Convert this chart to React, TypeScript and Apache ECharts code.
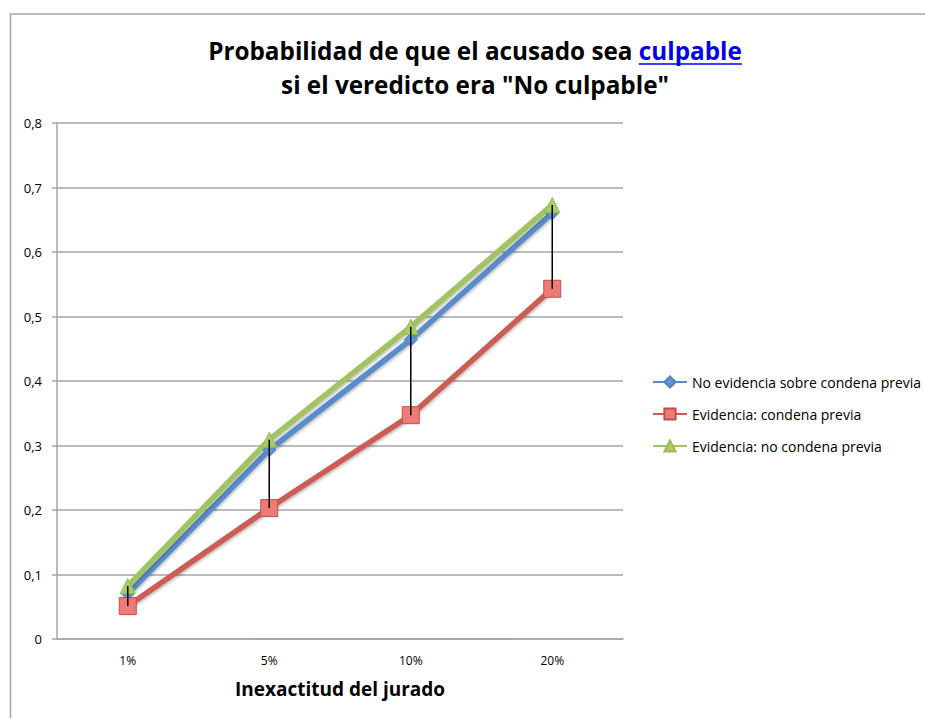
import React, { useEffect, useRef } from "react";
import * as echarts from "echarts";

const categories = ["1%", "5%", "10%", "20%"];
const noEvidencia = [0.07, 0.293, 0.464, 0.66];
const condenaPrevia = [0.051, 0.203, 0.347, 0.543];
const noCondenaPrevia = [0.082, 0.309, 0.484, 0.673];
const seriesNames = [
  "No evidencia sobre condena previa",
  "Evidencia: condena previa",
  "Evidencia: no condena previa",
];
const yTicks = { min: 0, max: 0.8, interval: 0.1 };

const FONT = "'Open Sans', sans-serif";
const TITLE1A = "Probabilidad de que el acusado sea ";
const TITLE1B = "culpable";
const TITLE2 = 'si el veredicto era "No culpable"';

function measure(text: string, font: string): number {
  const c = document.createElement("canvas");
  const ctx = c.getContext("2d")!;
  ctx.font = font;
  return ctx.measureText(text).width;
}

export default function App() {
  const ref = useRef<HTMLDivElement>(null);
  useEffect(() => {
    if (!ref.current) return;
    const chart = echarts.init(ref.current, undefined, { renderer: "svg" });
    // fit title line 1 to the reference width (~534px)
    const w100 = measure(TITLE1A + TITLE1B, "bold 100px 'Open Sans'");
    const titleSize = Math.max(16, Math.min(26, (534 / w100) * 100));
    const tFont = `bold ${titleSize}px 'Open Sans'`;
    const wA = measure(TITLE1A, tFont);
    const wB = measure(TITLE1B, tFont);
    const cx = 475;
    const startB = cx - (wA + wB) / 2 + wA;

    const hl = categories.map((_, i) => {
      const vals = [noEvidencia[i], condenaPrevia[i], noCondenaPrevia[i]];
      return [i, Math.min(...vals), Math.max(...vals)];
    });

    const shadow = { shadowColor: "rgba(0,0,0,0.3)", shadowBlur: 3, shadowOffsetY: 2 };

    chart.setOption({
      animation: false,
      backgroundColor: "#fff",
      textStyle: { fontFamily: FONT },
      graphic: [
        {
          type: "rect",
          shape: { x: 10.5, y: 14, width: 1000, height: 800 },
          style: { fill: "none", stroke: "#a6a6a6", lineWidth: 1.5 },
          silent: true,
        },
        {
          type: "text",
          x: cx,
          y: 50,
          style: {
            text: `{a|${TITLE1A}}{b|${TITLE1B}}`,
            align: "center",
            verticalAlign: "middle",
            rich: {
              a: { fontFamily: "Open Sans", fontWeight: "bold", fontSize: titleSize, fill: "#000" },
              b: { fontFamily: "Open Sans", fontWeight: "bold", fontSize: titleSize, fill: "#0000ee" },
            },
          },
        },
        {
          type: "line",
          shape: { x1: startB, y1: 64, x2: startB + wB, y2: 64 },
          style: { stroke: "#0000ee", lineWidth: 1.5 },
        },
        {
          type: "text",
          x: cx,
          y: 84,
          style: {
            text: TITLE2,
            align: "center",
            verticalAlign: "middle",
            fontFamily: "Open Sans",
            fontWeight: "bold",
            fontSize: titleSize,
            fill: "#000",
          },
        },
      ],
      grid: { left: 57, right: 302, top: 123, bottom: 79, containLabel: false },
      legend: {
        orient: "vertical",
        left: 647,
        top: 370,
        itemWidth: 34,
        itemHeight: 14,
        itemGap: 18,
        data: seriesNames,
        textStyle: { fontSize: 14, color: "#000", fontFamily: FONT },
      },
      xAxis: {
        type: "category",
        data: categories,
        boundaryGap: true,
        axisLine: { lineStyle: { color: "#a6a6a6", width: 1.5 } },
        axisTick: { show: false },
        axisLabel: { fontSize: 12, color: "#000", margin: 15 },
        name: "Inexactitud del jurado",
        nameLocation: "middle",
        nameGap: 40,
        nameTextStyle: { fontSize: 19, fontWeight: "bold", color: "#000" },
      },
      yAxis: {
        type: "value",
        min: yTicks.min,
        max: yTicks.max,
        interval: yTicks.interval,
        axisLine: { show: true, lineStyle: { color: "#a6a6a6", width: 1.5 } },
        axisTick: { show: true, length: 5, lineStyle: { color: "#a6a6a6", width: 1.5 } },
        axisLabel: {
          fontSize: 13,
          color: "#000",
          margin: 15,
          formatter: (v: number) => (Math.round(v * 10) / 10).toString().replace(".", ","),
        },
        splitLine: { lineStyle: { color: "#a6a6a6", width: 1.5 } },
      },
      series: [
        {
          name: seriesNames[0],
          type: "line",
          data: noEvidencia,
          symbol: "diamond",
          symbolSize: 13,
          lineStyle: { color: "#5a8ccb", width: 5.5, ...shadow },
          itemStyle: { color: "#5b93d3", borderColor: "#4f81bd", borderWidth: 1 },
          z: 2,
        },
        {
          name: seriesNames[1],
          type: "line",
          data: condenaPrevia,
          symbol: "rect",
          symbolSize: 17,
          lineStyle: { color: "#cd5b55", width: 5.5, ...shadow },
          itemStyle: { color: "#ee7b76", borderColor: "#c0504d", borderWidth: 1 },
          z: 2,
        },
        {
          name: seriesNames[2],
          type: "line",
          data: noCondenaPrevia,
          symbol: "triangle",
          symbolSize: 15,
          lineStyle: { color: "#a2c364", width: 5.5, ...shadow },
          itemStyle: { color: "#a9cc66", borderColor: "#9bbb59", borderWidth: 1 },
          z: 2,
        },
        {
          name: "highlow",
          type: "custom",
          data: hl,
          z: 5,
          renderItem: (params: any, api: any) => {
            const p1 = api.coord([api.value(0), api.value(1)]);
            const p2 = api.coord([api.value(0), api.value(2)]);
            return {
              type: "line",
              shape: { x1: p1[0], y1: p1[1], x2: p2[0], y2: p2[1] },
              style: { stroke: "#000", lineWidth: 1.5 },
            };
          },
        },
      ],
    });
    return () => chart.dispose();
  }, []);
  return (
    <div
      ref={ref}
      style={{ position: "absolute", left: 0, top: 0, width: 925, height: 718 }}
    />
  );
}
